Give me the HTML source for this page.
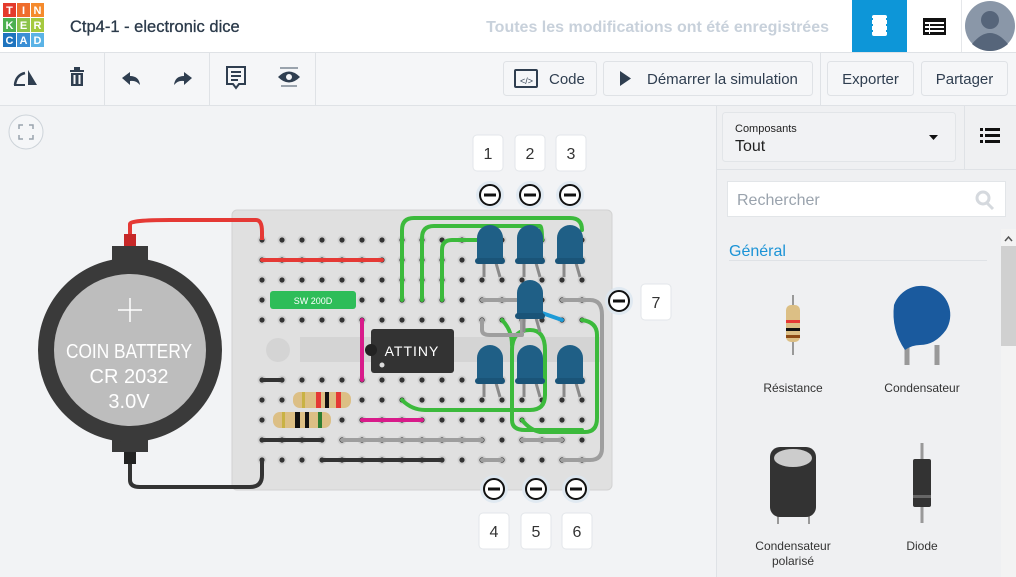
<!DOCTYPE html>
<html><head><meta charset="utf-8"><style>
body{margin:0;width:1016px;height:577px;overflow:hidden;font-family:"Liberation Sans",sans-serif;background:#f2f3f5}
svg{display:block}
text{font-family:"Liberation Sans",sans-serif}
</style></head><body>
<svg id="s" width="1016" height="577" viewBox="0 0 1016 577" xmlns="http://www.w3.org/2000/svg">
<rect x="0" y="0" width="1016" height="52" fill="#fff"/>
<line x1="0" y1="52.5" x2="1016" y2="52.5" stroke="#dfe2e6"/>
<g>
<rect x="3" y="3" width="13" height="14" fill="#e43a2b"/><rect x="17" y="3" width="13" height="14" fill="#ef6c2c"/><rect x="31" y="3" width="13" height="14" fill="#f58a2c"/>
<rect x="3" y="18" width="13" height="14" fill="#4caf50"/><rect x="17" y="18" width="13" height="14" fill="#8bc34a"/><rect x="31" y="18" width="13" height="14" fill="#a5c93f"/>
<rect x="3" y="33" width="13" height="14" fill="#1e73be"/><rect x="17" y="33" width="13" height="14" fill="#3b8fd5"/><rect x="31" y="33" width="13" height="14" fill="#5bb3e6"/>
<g fill="#fff" font-size="11" font-weight="bold" text-anchor="middle">
<text x="9.5" y="14">T</text><text x="23.5" y="14">I</text><text x="37.5" y="14">N</text>
<text x="9.5" y="29">K</text><text x="23.5" y="29">E</text><text x="37.5" y="29">R</text>
<text x="9.5" y="44">C</text><text x="23.5" y="44">A</text><text x="37.5" y="44">D</text></g></g>
<text x="70" y="32" font-size="16.5" fill="#2b3a4a" stroke="#2b3a4a" stroke-width="0.3">Ctp4-1 - electronic dice</text>
<text x="829" y="32" font-size="16" font-weight="bold" fill="#c8d1db" text-anchor="end">Toutes les modifications ont été enregistrées</text>
<rect x="852" y="0" width="55" height="52" fill="#0d96d8"/>
<rect x="872" y="15" width="15" height="21" rx="2" fill="#fff"/>
<g fill="#0d96d8"><rect x="870" y="18" width="3" height="2"/><rect x="870" y="24" width="3" height="2"/><rect x="870" y="30" width="3" height="2"/><rect x="886" y="18" width="3" height="2"/><rect x="886" y="24" width="3" height="2"/><rect x="886" y="30" width="3" height="2"/></g>
<g><rect x="923" y="18" width="23" height="17" fill="#111"/><g fill="#fff"><rect x="925" y="22" width="19" height="2"/><rect x="925" y="26" width="19" height="2"/><rect x="925" y="30" width="19" height="2"/><rect x="929" y="22" width="1" height="12"/></g></g>
<line x1="961.5" y1="0" x2="961.5" y2="52" stroke="#e5e7ea"/>
<g><circle cx="990" cy="26" r="25" fill="#8a97a8"/><circle cx="990" cy="20" r="9" fill="#56657a"/><path d="M972 44 q18 -22 36 0 q-8 7 -18 7 q-10 0 -18 -7z" fill="#56657a"/></g>
<rect x="0" y="53" width="1016" height="52" fill="#f5f6f8"/>
<line x1="0" y1="105.5" x2="1016" y2="105.5" stroke="#dfe2e6"/>
<g stroke="#dfe2e6"><line x1="104.5" y1="53" x2="104.5" y2="105"/><line x1="209.5" y1="53" x2="209.5" y2="105"/><line x1="315.5" y1="53" x2="315.5" y2="105"/><line x1="820.5" y1="53" x2="820.5" y2="105"/></g>
<g fill="#2f3e50">
<g><path d="M28 70 l9 15 h-9z"/><path d="M15 85 q1 -10 10 -12" stroke="#2f3e50" stroke-width="2.5" fill="none"/><path d="M14 85 h11" stroke="#2f3e50" stroke-width="2"/></g>
<g><rect x="70" y="70" width="14" height="2"/><rect x="74" y="67" width="6" height="3"/><path d="M71 73 h12 v13 h-12z M73.5 75 v9 h2 v-9z M78.5 75 v9 h2 v-9z" fill-rule="evenodd"/></g>
<g><path d="M122 78 l8 -6 v4 q9 0 10 9 q-4 -5 -10 -4 v4z"/></g>
<g><path d="M192 78 l-8 -6 v4 q-9 0 -10 9 q4 -5 10 -4 v4z"/></g>
<g><path d="M227 67 h18 v17 h-6 l-3 4 l-3 -4 h-6z" fill="none" stroke="#2f3e50" stroke-width="2"/><rect x="231" y="71" width="10" height="2"/><rect x="231" y="75" width="10" height="2"/><rect x="231" y="79" width="7" height="2"/></g>
<g><path d="M278 77 q11 -11 22 0 q-11 11 -22 0z"/><circle cx="289" cy="77" r="3" fill="#f5f6f8"/><path d="M280 68 h18 M281 86 h16" stroke="#9aa3ad" stroke-width="2"/></g>
</g>
<g><rect x="503.5" y="61.5" width="93" height="34" rx="3" fill="#f5f6f8" stroke="#dfe2e6"/><rect x="515" y="70" width="22" height="17" rx="1" fill="none" stroke="#2f3e50" stroke-width="2"/><text x="520" y="84" font-size="9" fill="#2f3e50">&lt;/&gt;</text><text x="549" y="84" font-size="15" fill="#2f3e50">Code</text></g>
<g><rect x="603.5" y="61.5" width="209" height="34" rx="3" fill="#f5f6f8" stroke="#dfe2e6"/><path d="M620 71 l11 7.5 l-11 7.5z" fill="#2f3e50"/><text x="647" y="84" font-size="15" fill="#2f3e50">Démarrer la simulation</text></g>
<g><rect x="827.5" y="61.5" width="86" height="34" rx="3" fill="#f5f6f8" stroke="#dfe2e6"/><text x="870.5" y="84" font-size="15" fill="#2f3e50" text-anchor="middle">Exporter</text></g>
<g><rect x="921.5" y="61.5" width="86" height="34" rx="3" fill="#f5f6f8" stroke="#dfe2e6"/><text x="964.5" y="84" font-size="15" fill="#2f3e50" text-anchor="middle">Partager</text></g>
<g><circle cx="26" cy="132" r="17" fill="#f5f6f8" stroke="#cdd3d9"/><path d="M19 129 v-4 h4 M29 125 h4 v4 M33 135 v4 h-4 M23 139 h-4 v-4" stroke="#9aa3ad" stroke-width="1.5" fill="none"/></g>
<g id="bb">
<rect x="232" y="210" width="380" height="280" rx="5" fill="#e0e0e0" stroke="#d2d2d2"/>
<rect x="300" y="337" width="300" height="25" fill="#d4d4d4"/><circle cx="278" cy="350" r="12" fill="#d4d4d4"/>
</g>
<g id="holes"></g>
<g id="wires" fill="none" stroke-linecap="round" stroke-linejoin="round"></g>
<g>
<path d="M130 240 V224 Q130 220 170 220 H256 Q262 220 262 232 V240" fill="none" stroke="#e53935" stroke-width="4"/>
<path d="M130 460 V480 Q130 487 140 487 H250 Q262 487 262 475 V460" fill="none" stroke="#333" stroke-width="4"/>
<rect x="124" y="234" width="12" height="16" fill="#c62828"/><rect x="124" y="448" width="12" height="16" fill="#222"/>
<rect x="112" y="246" width="36" height="16" fill="#3a3a3a"/><rect x="112" y="436" width="36" height="16" fill="#3a3a3a"/>
<circle cx="130" cy="350" r="92" fill="#3a3a3a"/>
<circle cx="130" cy="350" r="76" fill="#bdbdbd"/>
<path d="M130 298 v24 M118 310 h24" stroke="#fff" stroke-width="1.5"/>
<g fill="#fff" font-size="20" text-anchor="middle"><text x="129" y="358" textLength="126" lengthAdjust="spacingAndGlyphs">COIN BATTERY</text><text x="129" y="383">CR 2032</text><text x="129" y="408">3.0V</text></g>
</g>
<g><rect x="270" y="291" width="86" height="18" rx="3" fill="#2ebd59"/><text x="313" y="304" font-size="9" fill="#fff" text-anchor="middle">SW 200D</text></g>
<g><rect x="293" y="392" width="58" height="16" rx="7" fill="#dcbf85"/><rect x="302" y="392" width="3" height="16" fill="#c9b244"/><rect x="316" y="392" width="5" height="16" fill="#e53935"/><rect x="325" y="392" width="4" height="16" fill="#111"/><rect x="336" y="392" width="5" height="16" fill="#e53935"/></g>
<g><rect x="273" y="412" width="58" height="16" rx="7" fill="#dcbf85"/><rect x="282" y="412" width="3" height="16" fill="#c9b244"/><rect x="295" y="412" width="5" height="16" fill="#111"/><rect x="305" y="412" width="4" height="16" fill="#111"/><rect x="318" y="412" width="4" height="16" fill="#2e7d32"/></g>
<g><rect x="371" y="329" width="83" height="44" rx="3" fill="#333"/><circle cx="371" cy="350" r="6" fill="#222"/><circle cx="382" cy="365" r="2.5" fill="#ddd"/><text x="412" y="356" font-size="14" fill="#fff" text-anchor="middle" letter-spacing="1">ATTINY</text></g>
<g id="leds"></g>
<g id="markers"></g>
<rect x="716" y="106" width="300" height="471" fill="#eff0f2"/>
<line x1="716.5" y1="106" x2="716.5" y2="577" stroke="#dfe2e6"/>
<line x1="716" y1="169.5" x2="1016" y2="169.5" stroke="#dfe2e6"/>
<line x1="964.5" y1="106" x2="964.5" y2="169" stroke="#dfe2e6"/>
<g><rect x="722.5" y="112.5" width="233" height="49" rx="3" fill="#f1f2f4" stroke="#e2e5e8"/><text x="735" y="132" font-size="11" fill="#222">Composants</text><text x="735" y="151" font-size="16" fill="#222">Tout</text><path d="M929 135 h9 l-4.5 5z" fill="#111"/></g>
<g fill="#111"><rect x="980" y="128" width="3" height="3"/><rect x="985" y="128" width="15" height="3"/><rect x="980" y="134" width="3" height="3"/><rect x="985" y="134" width="15" height="3"/><rect x="980" y="140" width="3" height="3"/><rect x="985" y="140" width="15" height="3"/></g>
<g><rect x="727.5" y="181.5" width="278" height="35" fill="#fff" stroke="#e2e5e8"/><text x="737" y="205" font-size="16" fill="#9aa3ad">Rechercher</text><circle cx="983" cy="198" r="6" fill="none" stroke="#d5d9de" stroke-width="3"/><path d="M987 203 l6 6" stroke="#d5d9de" stroke-width="3"/></g>
<g><rect x="1001" y="229" width="15" height="348" fill="#f3f3f3"/><rect x="1001" y="246" width="15" height="100" fill="#d0d0d0"/><path d="M1005 241 l3.5 -4 l3.5 4" stroke="#555" fill="none" stroke-width="1.5"/></g>
<text x="729" y="256" font-size="16" fill="#1b93d6">Général</text>
<line x1="729" y1="260.5" x2="987" y2="260.5" stroke="#dfe2e6"/>
<g><line x1="793" y1="295" x2="793" y2="355" stroke="#999" stroke-width="2"/><rect x="786" y="305" width="14" height="37" rx="5" fill="#dcbf85"/><rect x="786" y="320" width="14" height="3" fill="#e53935"/><rect x="786" y="328" width="14" height="3" fill="#111"/><rect x="786" y="335" width="14" height="3" fill="#8d4a14"/><text x="793" y="392" font-size="12" fill="#333" text-anchor="middle">Résistance</text></g>
<g><path d="M907 365 v-20 M937 365 v-20" stroke="#999" stroke-width="5"/><path d="M905 350 Q891 330 894 305 A29 29 0 1 1 946 330 Q935 345 920 345 Q912 345 905 350z" fill="#1a5a9e"/><text x="922" y="392" font-size="12" fill="#333" text-anchor="middle">Condensateur</text></g>
<g><path d="M778 512 v12 M809 512 v12" stroke="#999" stroke-width="2"/><rect x="770" y="447" width="46" height="70" rx="10" fill="#333"/><ellipse cx="793" cy="458" rx="19" ry="9" fill="#ccc"/><text x="793" y="550" font-size="12" fill="#333" text-anchor="middle">Condensateur</text><text x="793" y="565" font-size="12" fill="#333" text-anchor="middle">polarisé</text></g>
<g><line x1="922" y1="443" x2="922" y2="523" stroke="#999" stroke-width="3"/><rect x="913" y="459" width="18" height="48" rx="2" fill="#333"/><rect x="913" y="495" width="18" height="3" fill="#666"/><text x="922" y="550" font-size="12" fill="#333" text-anchor="middle">Diode</text></g>
</svg>
<script>
const NS='http://www.w3.org/2000/svg';
const cols=[1,2,3,4,5,6,7,8,9,10,11,12,13,14,15,16,17];
const rowsTop=['J','I','H','G','F'];
const rowsBot=['E','D','C','B','A'];
const markerLabels=['1','2','3','7','4','5','6'];
function cx(c){return 262+(c-1)*20;}
function ry(r){const t=rowsTop.indexOf(r);return t>=0?240+t*20:380+rowsBot.indexOf(r)*20;}
function mk(tag,attrs,parent){const e=document.createElementNS(NS,tag);for(const k in attrs)e.setAttribute(k,attrs[k]);parent.appendChild(e);return e;}
const holes=document.getElementById('holes');
rowsTop.concat(rowsBot).forEach(r=>{cols.forEach(c=>{
 const h=mk('circle',{cx:cx(c),cy:ry(r),r:4.5,fill:'#cfcfcf'},holes);
 
 
 mk('circle',{cx:cx(c),cy:ry(r),r:2.6,fill:'#333'},holes);});});
const W=document.getElementById('wires');
function wire(d,col,name){const p=mk('path',{d:d,stroke:col,'stroke-width':4},W);}
const G='#3cba3c',GR='#9e9e9e',BK='#333',R='#e53935',PK='#d81b8a';
wire('M262 260 H382',R,'wire-red');
wire('M262 380 H282',BK,'wire-black-e');
wire('M262 440 H322',BK,'wire-black-b');
wire('M322 460 H442',BK,'wire-black-a');
wire('M342 440 H482',GR,'wire-gray-b');
wire('M522 440 H562',GR,'wire-gray-b2');
wire('M482 460 H502',GR,'wire-gray-a');
wire('M362 320 V380',PK,'wire-pink-v');
wire('M362 420 H422',PK,'wire-pink-h');
wire('M402 300 V230 Q402 218 414 218 H570 Q582 218 582 230',G,'wire-green-1');
wire('M422 300 V238 Q422 226 434 226 H540 Q542 226 542 240',G,'wire-green-2');
wire('M442 300 V250 Q442 240 452 240 H490',G,'wire-green-3');
wire('M402 400 Q412 410 425 410 H530 Q545 410 545 395 V350 Q545 330 530 330 Q512 330 512 350 V420 Q512 430 525 430 H582',G,'wire-green-4');
wire('M502 320 Q512 330 512 345',G,'wire-green-5');
wire('M522 420 Q530 430 540 432 H585 Q597 432 597 418 V335 Q597 322 582 320',G,'wire-green-6');
wire('M482 300 H522',GR,'wire-gray-g');
wire('M482 320 V330 Q482 335 490 335 H522 V320',GR,'wire-gray-f');
wire('M562 300 H590 Q602 300 602 315 V448 Q602 460 590 460 H562',GR,'wire-gray-7');
wire('M542 313 L562 320','#1e9bd7','wire-blue');
const ledX=[490,530,570,530,490,530,570];
const ledY=[225,225,225,280,345,345,345];
const L=document.getElementById('leds');
ledX.forEach((x,i)=>{const g=mk('g',{},L);
 
 
 mk('path',{d:`M${x-6} ${ledY[i]+38} v14 M${x+6} ${ledY[i]+38} l4 14`,stroke:'#8a8a8a','stroke-width':3,fill:'none'},g);
 mk('path',{d:`M${x-13} ${ledY[i]+36} V${ledY[i]+13} a13 13 0 0 1 26 0 V${ledY[i]+36}z`,fill:'#1f5f86'},g);
 mk('rect',{x:x-15,y:ledY[i]+33,width:30,height:6,rx:3,fill:'#1a5478'},g);});
const mX=[490,530,570,619,494,536,576];
const mY=[195,195,195,301,489,489,489];
const lX=[488,530,571,656,494,536,577];
const lY=[153,153,153,302,531,531,531];
const M=document.getElementById('markers');
mX.forEach((x,i)=>{const g=mk('g',{},M);
 
 
 mk('circle',{cx:x,cy:mY[i],r:14,fill:'#dbe6f0',opacity:0.8},g);
 mk('circle',{cx:x,cy:mY[i],r:10,fill:'#fff',stroke:'#111','stroke-width':2},g);
 mk('rect',{x:x-6,y:mY[i]-1.5,width:12,height:3,fill:'#111'},g);
 mk('rect',{x:lX[i]-15,y:lY[i]-18,width:30,height:36,rx:4,fill:'#fff',stroke:'#e3e6ea'},g);
 const t=mk('text',{x:lX[i],y:lY[i]+6,'font-size':16,fill:'#333','text-anchor':'middle'},g);t.textContent=markerLabels[i];});
</script>
</body></html>
